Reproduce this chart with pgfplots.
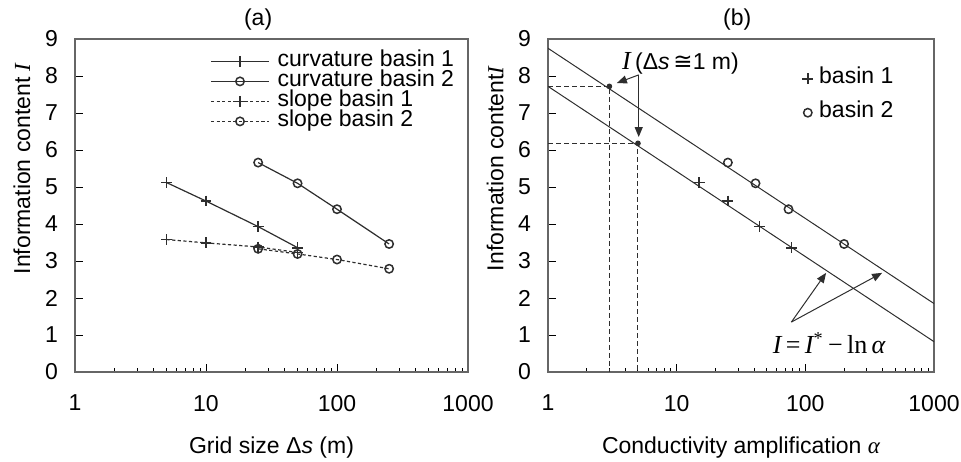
\documentclass[border=0pt]{standalone}
\usepackage{fontspec}
\setmainfont{Liberation Sans}
\newfontfamily\serif{Liberation Serif}
\newfontfamily\dejavu{DejaVu Sans}
\usepackage{pgfplots}
\pgfplotsset{compat=1.18}
\usetikzlibrary{arrows.meta}

\newcommand{\fsz}{\fontsize{11.5}{13}\selectfont}
\definecolor{ink}{HTML}{2E2E2E}
\definecolor{frame}{HTML}{666666}

\pgfplotsset{
  panel/.style={
    scale only axis, height=166.5pt,
    log basis x=10, xmin=1, xmax=1000, ymin=0, ymax=9,
    ytick={0,1,...,9},
    log ticks with fixed point,
    /pgf/number format/1000 sep={},
    /pgf/number format/assume math mode=true,
    tick align=inside, xtick pos=bottom, ytick pos=left,
    major tick length=4pt, minor tick length=2pt,
    axis line style={frame, line width=0.7pt},
    every tick/.style={black, line width=0.5pt},
    tick label style={font=\fsz},
    xticklabel style={yshift=-8pt},
    yticklabel style={xshift=-5pt},
    label style={font=\fsz},
    xlabel style={at={(axis description cs:0.5,0)}, anchor=center, yshift=-38pt},
    title style={font=\fsz, anchor=center, yshift=3.5pt},
    every axis plot/.append style={ink, line width=0.6pt},
  },
  slope/.style={dash pattern=on 1.6pt off 1.2pt},
  pmark/.style={mark=+, mark size=2.7pt, mark options={solid, line width=0.85pt}},
  omark/.style={mark=o, mark size=2.1pt, mark options={solid, line width=0.75pt}},
}

\begin{document}
\begin{tikzpicture}
\useasboundingbox (-37.5pt,-44.5pt) rectangle (443pt,186pt);

% (a) information content against grid size
\begin{semilogxaxis}[panel, width=196.5pt, at={(0,0)}, anchor=south west,
    title={(a)}, title style={at={(axis description cs:0.466,1)}},
    xlabel={Grid size \symbol{"0394}{\itshape s} (m)},
    ylabel={Information content {\serif\itshape I}},
    ylabel style={at={(axis description cs:-0.135,0.61)}, anchor=center},
    legend style={at={(axis description cs:0.3435,0.964)}, anchor=north west,
      draw=none, fill=none, font=\fsz, inner sep=0pt, row sep=0pt,
      /tikz/column sep=4pt, cells={anchor=west},
      nodes={inner sep=0pt, text height=7.5pt, text depth=2.5pt}},
    legend image code/.code={
      \draw[mark repeat=2, mark phase=2] plot coordinates {(0pt,0pt) (14.5pt,0pt) (29pt,0pt)};},
  ]
\addplot[pmark] coordinates {(5,5.12) (10,4.62) (25,3.93) (50,3.36)};
\addplot[omark] coordinates {(25,5.66) (50,5.10) (100,4.40) (250,3.46)};
\addplot[slope, pmark] coordinates {(5,3.58) (10,3.49) (25,3.38) (50,3.23)};
\addplot[slope, omark] coordinates {(25,3.33) (50,3.19) (100,3.04) (250,2.79)};
\legend{curvature basin 1, curvature basin 2, slope basin 1, slope basin 2}
\end{semilogxaxis}

% (b) information content against conductivity amplification
\begin{semilogxaxis}[panel, width=193pt, at={(236.5pt,0)}, anchor=south west,
    title={(b)}, title style={at={(axis description cs:0.49,1)}},
    xlabel={Conductivity amplification {\serif\itshape α}},
    ylabel={Information content{\serif\itshape I}},
    ylabel style={at={(axis description cs:-0.137,0.61)}, anchor=center},
    legend style={at={(axis description cs:0.658,0.912)}, anchor=north west,
      draw=none, fill=none, font=\fsz, inner sep=0pt, row sep=7pt,
      /tikz/column sep=3pt, cells={anchor=west},
      nodes={inner sep=0pt, text height=7.5pt, text depth=2.5pt}},
    legend image code/.code={\draw plot coordinates {(3pt,0pt)};},
  ]
\addplot[only marks, pmark] coordinates {(15,5.12) (25,4.62) (44,3.93) (78,3.36)};
\addplot[only marks, omark] coordinates {(25,5.66) (41,5.10) (74,4.40) (200,3.46)};
\legend{basin 1, basin 2}
\addplot[forget plot, line width=0.5pt] coordinates {(1,8.75) (1000,1.85)};
\addplot[forget plot, line width=0.5pt] coordinates {(1,7.72) (1000,0.82)};
\addplot[forget plot, line width=0.5pt, dash pattern=on 2.5pt off 1.5pt] coordinates {(1,7.72) (3,7.72) (3,0)};
\addplot[forget plot, line width=0.5pt, dash pattern=on 2.5pt off 1.5pt] coordinates {(1,6.18) (5,6.18) (5,0)};
\addplot[forget plot, only marks, mark=*, mark size=1.1pt] coordinates {(3,7.72) (5,6.18)};
\draw[ink, line width=0.5pt, -{Triangle[length=5pt, width=4pt]}] (axis cs:5.07,8.03) -- (axis cs:3.43,7.81);
\draw[ink, line width=0.5pt, -{Triangle[length=5pt, width=4pt]}] (axis cs:5.07,8.03) -- (axis cs:5.07,6.35);
\node[font=\fsz, inner sep=0pt] at (axis cs:10.7,8.35)
  {{\serif\itshape\fontsize{13}{14}\selectfont I\,}(\symbol{"0394}{\itshape s}\,{\dejavu ≅}1 m)};
\draw[ink, line width=0.5pt, -{Triangle[length=5pt, width=4pt]}] (axis cs:77.9,1.35) -- (axis cs:145,2.68);
\draw[ink, line width=0.5pt, -{Triangle[length=5pt, width=4pt]}] (axis cs:77.9,1.35) -- (axis cs:395,2.68);
\node[inner sep=0pt] at (axis cs:153,0.78)
  {\serif\fontsize{13}{14}\selectfont{\itshape I}\,=\,{\itshape I}\textsuperscript{*}\,−\,ln\,{\itshape α}};
\end{semilogxaxis}
\end{tikzpicture}
\end{document}
